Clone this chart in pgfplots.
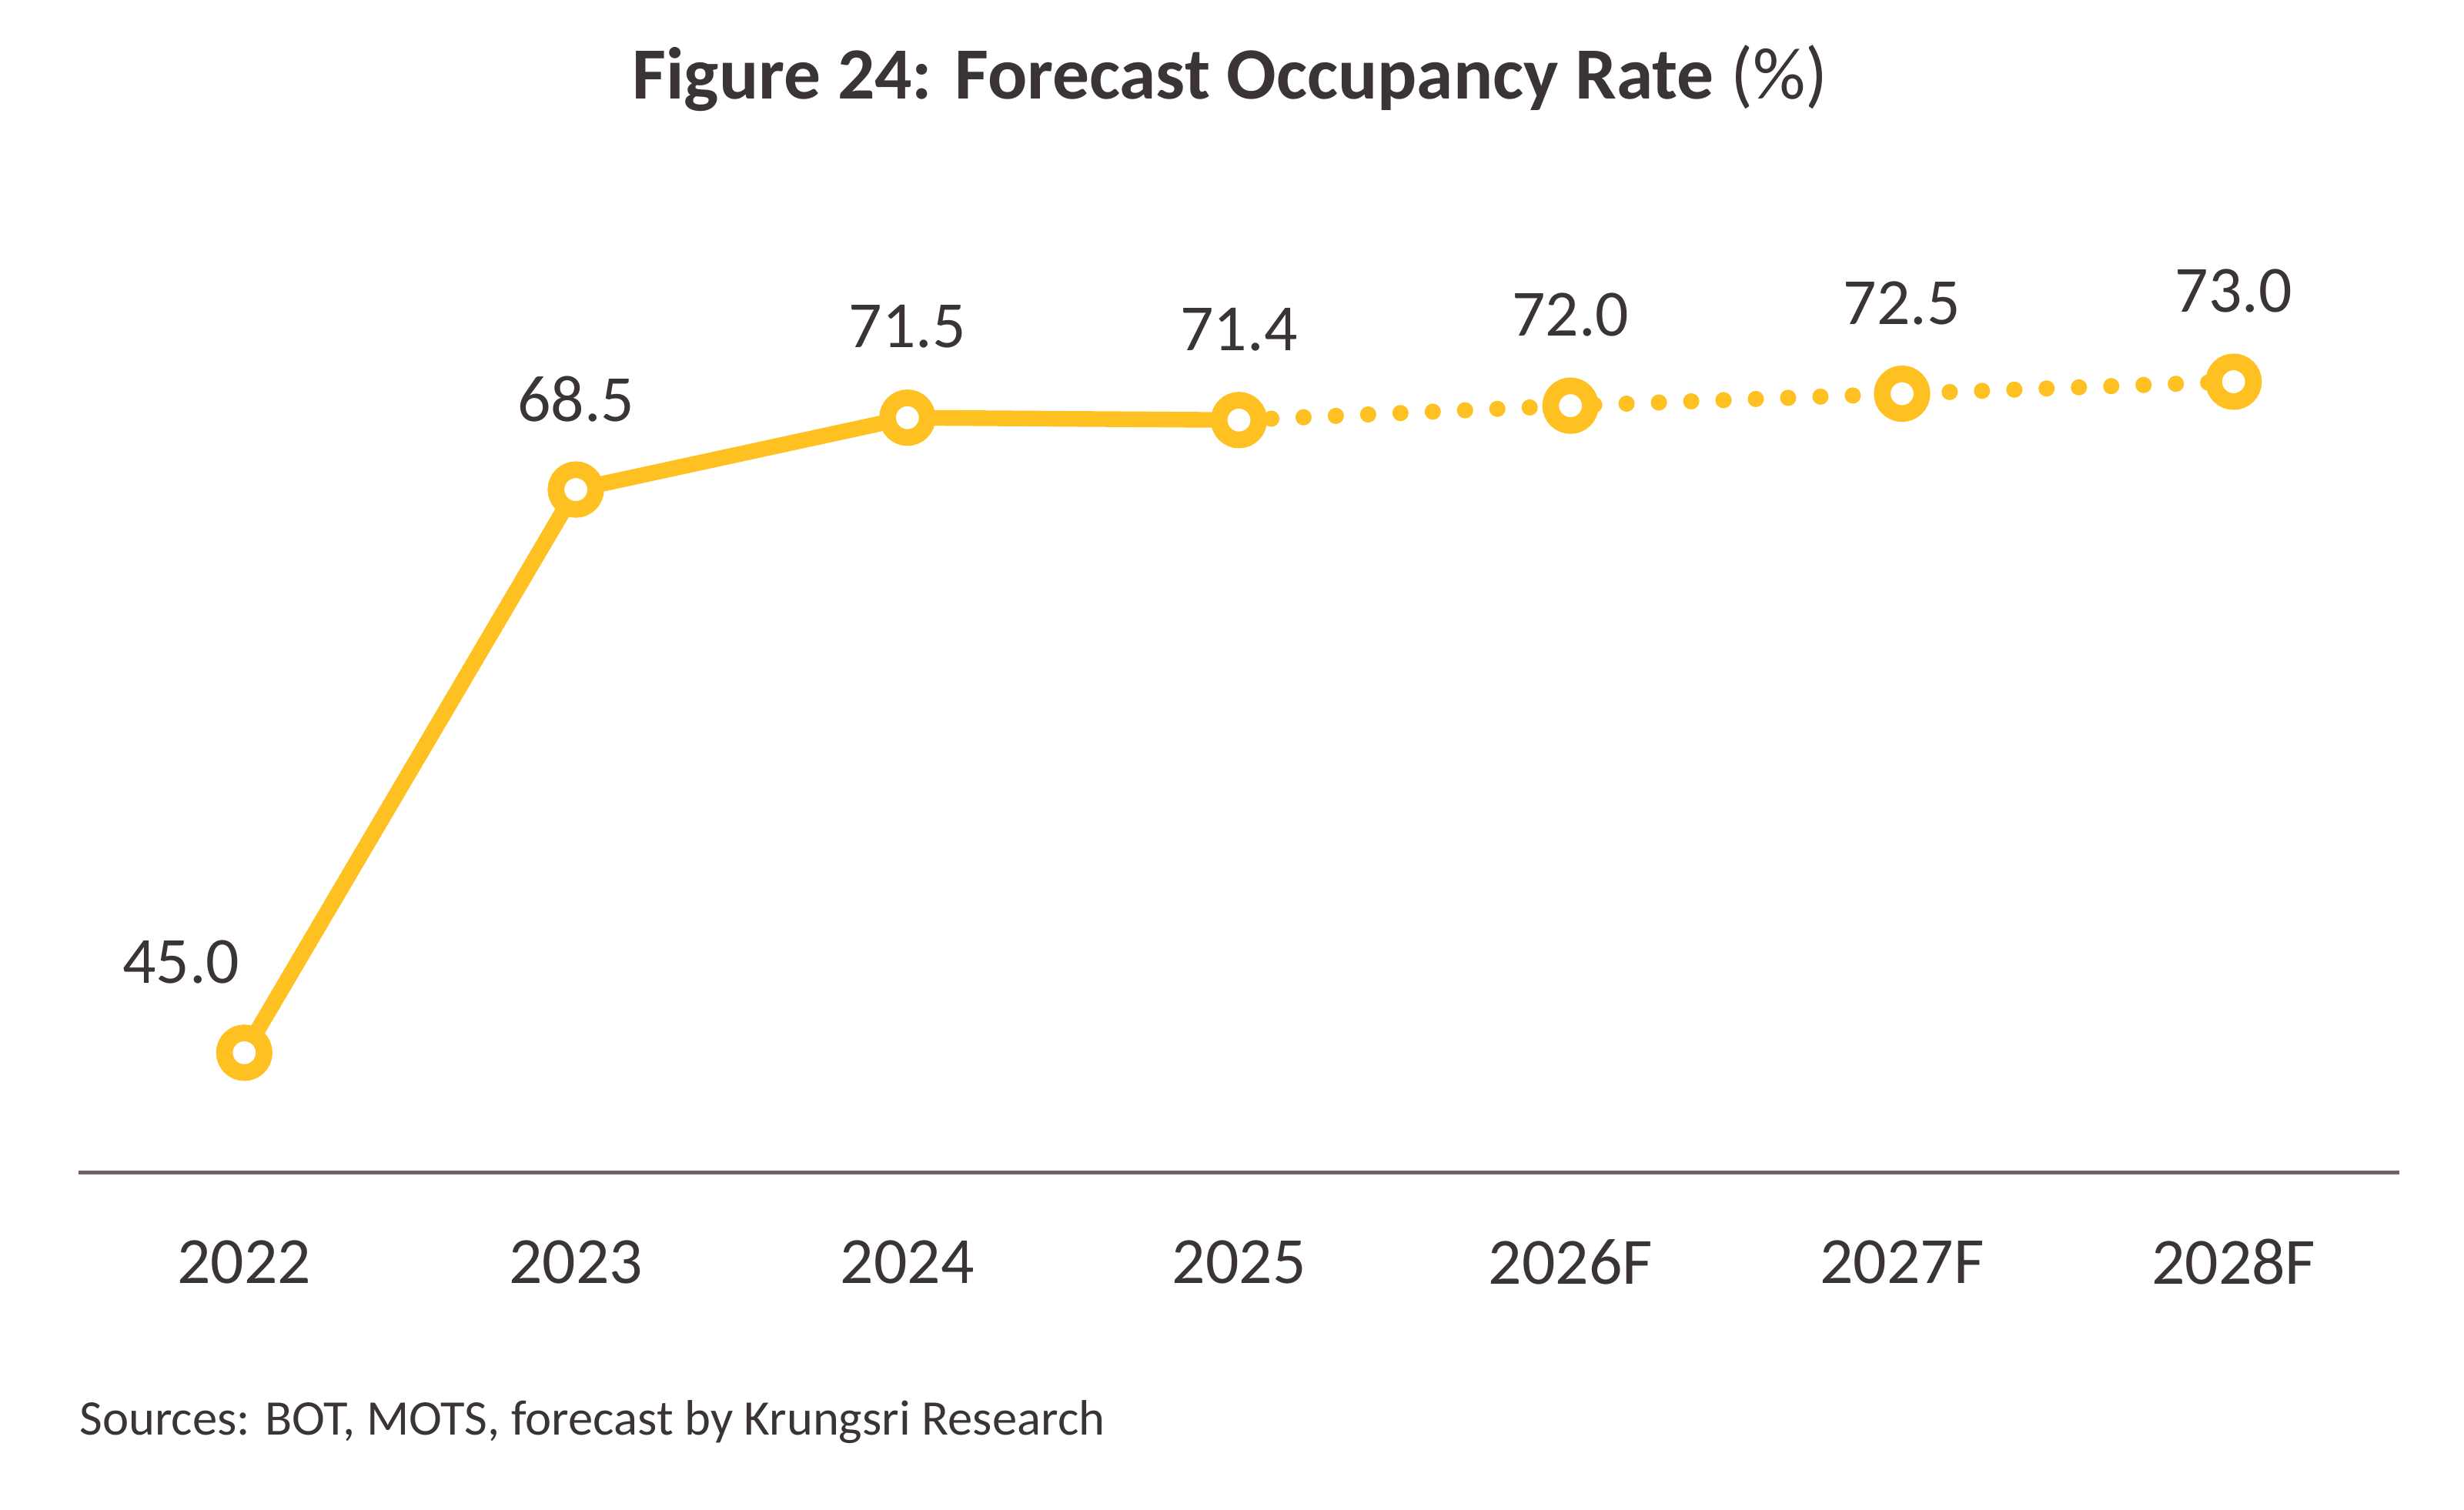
\documentclass[border=0pt]{standalone}
\usepackage{fontspec}
\setmainfont{Carlito}
\usepackage{pgfplots}
\pgfplotsset{compat=1.18}

\definecolor{occyellow}{HTML}{FFC022}
\definecolor{txtdark}{HTML}{3A3434}
\definecolor{axisline}{HTML}{6E6262}

\begin{document}
\begin{tikzpicture}
\path[use as bounding box] (0,0) rectangle (16.005,9.805);

\node[text=txtdark, font=\fontsize{13.6}{15}\selectfont] at (7.99,9.295)
  {\textbf{Figure 24: Forecast Occupancy Rate} (\%)};
\node[text=txtdark, font=\fontsize{9.2}{10}\selectfont, anchor=west, inner sep=0pt] at (0.51,0.565)
  {Sources: BOT, MOTS, forecast by Krungsri Research};

\begin{axis}[
  at={(0.51cm,2.1875cm)}, anchor=south west,
  width=15.075cm, height=5.449cm,
  scale only axis,
  xmin=-0.5, xmax=6.5,
  ymin=40, ymax=75,
  axis x line*=bottom,
  axis y line=none,
  x axis line style={draw=axisline, line width=0.65pt},
  xtick={0,1,2,3,4,5,6},
  xticklabels={2022, 2023, 2024, 2025, 2026F, 2027F, 2028F},
  major tick length=0pt,
  x tick label style={font=\fontsize{12.2}{14}\selectfont, text=txtdark, anchor=center, yshift=-0.58cm},
  clip=false,
  point meta=explicit symbolic,
  nodes near coords,
  every node near coord/.append style={font=\fontsize{12.2}{14}\selectfont, text=txtdark, anchor=center, yshift=0.59cm},
]

% forecast (dotted)
\addplot[occyellow, line width=3pt, line cap=round, dash pattern=on 0pt off 0.21cm, mark=none, nodes near coords={}] coordinates {
  (3,71.4) (4,72.0) (5,72.5) (6,73.0)
};
% actual (solid)
\addplot[occyellow, line width=2.9pt, mark=none, nodes near coords={}] coordinates {
  (0,45.0) (1,68.5) (2,71.5) (3,71.4)
};
% markers and labels
\addplot[only marks, mark=*, mark size=0.129cm, mark options={draw=occyellow, fill=white, line width=0.108cm},
  every node near coord/.append style={xshift=-0.41cm}] coordinates {
  (0,45.0) [45.0]
};
\addplot[only marks, mark=*, mark size=0.129cm, mark options={draw=occyellow, fill=white, line width=0.108cm}] coordinates {
  (1,68.5) [68.5]
  (2,71.5) [71.5]
  (3,71.4) [71.4]
  (4,72.0) [72.0]
  (5,72.5) [72.5]
  (6,73.0) [73.0]
};
\end{axis}
\end{tikzpicture}
\end{document}
